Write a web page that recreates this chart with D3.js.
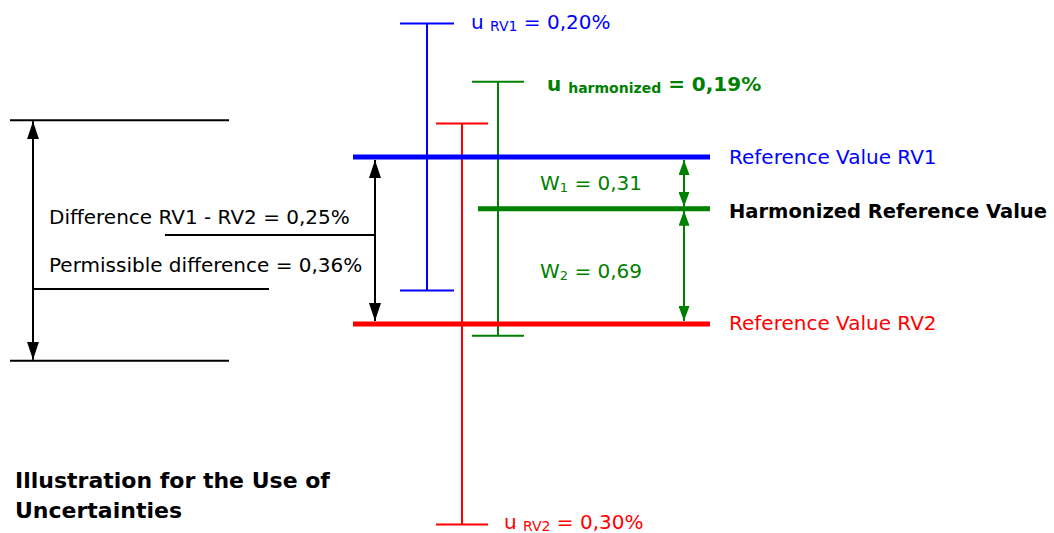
<!DOCTYPE html>
<html><head><meta charset="utf-8">
<script src="https://cdn.jsdelivr.net/npm/d3@7"></script>
<style>body{margin:0;background:#fff}svg{display:block}text{font-family:"DejaVu Sans",Verdana,sans-serif}</style>
</head><body><svg id="c" width="1054" height="533"></svg>
<script>
// Data (percent, relative to RV2)
const series = ["RV1", "RV2", "harmonized"];
const difference = 0.25;            // RV1 - RV2
const uncertainties = [0.20, 0.30, 0.19];
const weights = [0.31, 0.69];
const permissible = 0.36;
const refValues = [difference, 0, difference - weights[0] * difference];
const colors = ["#0000ff", "#ff0000", "#008000"];

const svg = d3.select("#c");
const y = d3.scaleLinear().domain([0, difference]).range([324, 157]);

const defs = svg.append("defs");
function marker(id, color, w, l) {
  defs.append("marker").attr("id", id).attr("viewBox", "0 -5 10 10").attr("refX", 10).attr("refY", 0)
    .attr("preserveAspectRatio", "none")
    .attr("markerUnits", "userSpaceOnUse").attr("markerWidth", l).attr("markerHeight", w).attr("orient", "auto-start-reverse")
    .append("path").attr("d", "M0,-5L10,0L0,5Z").attr("fill", color);
}
marker("ak", "#000", 12, 18);
marker("ag", "#008000", 11, 15);

// error bars (x layout: vertical x, cap half width)
const ebX = [427, 462, 498];
const capHalf = [27, 26, 26];
series.forEach((s, i) => {
  const g = svg.append("g").attr("stroke", colors[i]).attr("stroke-width", 2);
  const top = y(refValues[i] + uncertainties[i]), bot = y(refValues[i] - uncertainties[i]);
  g.append("line").attr("x1", ebX[i]).attr("x2", ebX[i]).attr("y1", top).attr("y2", bot);
  g.append("line").attr("x1", ebX[i] - capHalf[i]).attr("x2", ebX[i] + capHalf[i]).attr("y1", top).attr("y2", top);
  g.append("line").attr("x1", ebX[i] - capHalf[i]).attr("x2", ebX[i] + capHalf[i]).attr("y1", bot).attr("y2", bot);
});

// reference value lines
const lineX0 = [353, 353, 478];
series.forEach((s, i) => {
  svg.append("line").attr("x1", lineX0[i]).attr("x2", 710).attr("y1", y(refValues[i])).attr("y2", y(refValues[i]))
    .attr("stroke", colors[i]).attr("stroke-width", 5);
});

// difference arrow
svg.append("line").attr("x1", 375).attr("x2", 375).attr("y1", y(difference) + 3).attr("y2", y(0) - 3)
  .attr("stroke", "#000").attr("stroke-width", 2).attr("marker-start", "url(#ak)").attr("marker-end", "url(#ak)");
svg.append("line").attr("x1", 165).attr("x2", 375).attr("y1", 235).attr("y2", 235).attr("stroke", "#000").attr("stroke-width", 2);

// permissible difference arrow
const mid = difference / 2;
const pTop = y(mid + permissible / 2), pBot = y(mid - permissible / 2);
[pTop, pBot].forEach(v => svg.append("line").attr("x1", 10).attr("x2", 229).attr("y1", v).attr("y2", v).attr("stroke", "#000").attr("stroke-width", 2));
svg.append("line").attr("x1", 33).attr("x2", 33).attr("y1", pTop + 1).attr("y2", pBot - 1)
  .attr("stroke", "#000").attr("stroke-width", 2).attr("marker-start", "url(#ak)").attr("marker-end", "url(#ak)");
svg.append("line").attr("x1", 33).attr("x2", 269).attr("y1", 289).attr("y2", 289).attr("stroke", "#000").attr("stroke-width", 2);

// weight arrows
const hy = y(refValues[2]);
svg.append("line").attr("x1", 684).attr("x2", 684).attr("y1", y(refValues[0]) + 3).attr("y2", hy - 2)
  .attr("stroke", "#008000").attr("stroke-width", 2).attr("marker-start", "url(#ag)").attr("marker-end", "url(#ag)");
svg.append("line").attr("x1", 684).attr("x2", 684).attr("y1", hy + 2).attr("y2", y(refValues[1]) - 3)
  .attr("stroke", "#008000").attr("stroke-width", 2).attr("marker-start", "url(#ag)").attr("marker-end", "url(#ag)");

const fmt = v => d3.format(".2f")(v).replace(".", ",");
function txt(x, yy, color, parts, weight, size) {
  size = size || 20;
  const t = svg.append("text").attr("x", x).attr("y", yy).attr("fill", color).attr("font-size", size).attr("font-weight", weight || "normal");
  let shift = 0;
  parts.forEach(p => {
    const ts = t.append("tspan").attr("font-size", p[1] || size).text(p[0]);
    const want = p[1] ? 2 : 0;
    if (want !== shift) { ts.attr("dy", want - shift); shift = want; }
  });
  return t;
}
// labels
txt(471, 29, colors[0], [["u "], ["RV1", 14], [" = " + fmt(uncertainties[0]) + "%"]]);
txt(547, 91, colors[2], [["u "], ["harmonized", 14], [" = " + fmt(uncertainties[2]) + "%"]], "bold");
txt(504, 529, colors[1], [["u "], ["RV2", 14], [" = " + fmt(uncertainties[1]) + "%"]]);
txt(729, 164, colors[0], [["Reference Value RV1"]]);
txt(729, 330, colors[1], [["Reference Value RV2"]]);
txt(729, 218, "#000", [["Harmonized Reference Value"]], "bold", 19.5);
txt(540, 190, colors[2], [["W"], ["1", 13], [" = " + fmt(weights[0])]]);
txt(540, 278, colors[2], [["W"], ["2", 13], [" = " + fmt(weights[1])]]);
txt(49, 224, "#000", [["Difference RV1 - RV2 = " + fmt(difference) + "%"]]);
txt(49, 272, "#000", [["Permissible difference = " + fmt(permissible) + "%"]]);
txt(15, 488, "#000", [["Illustration for the Use of"]], "bold", 22);
txt(15, 518, "#000", [["Uncertainties"]], "bold", 22);
</script></body></html>
